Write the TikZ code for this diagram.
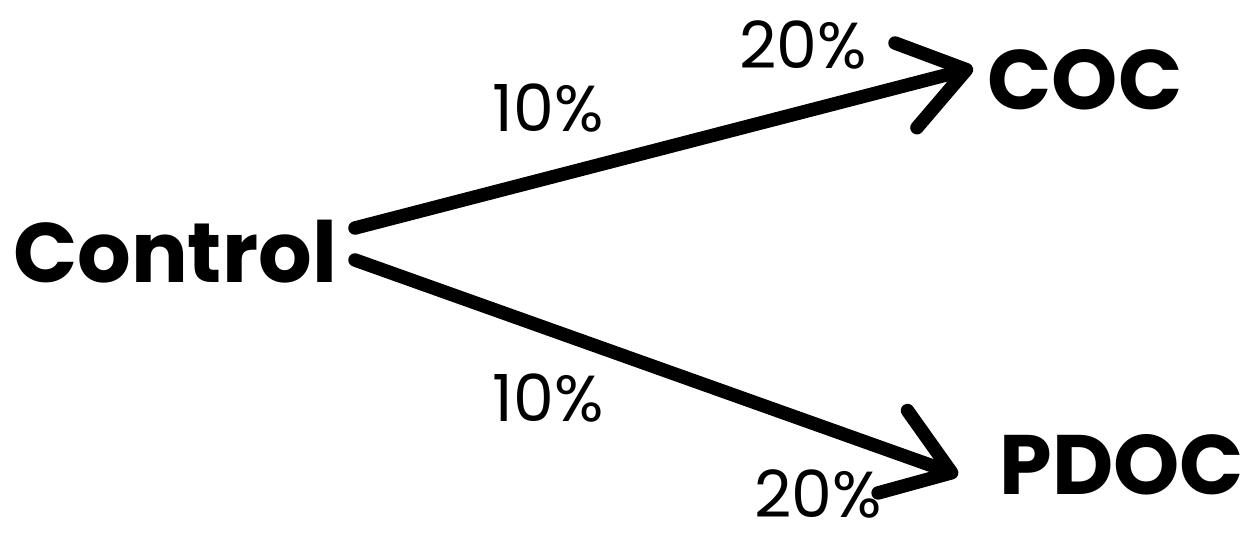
\documentclass[tikz,border=0pt]{standalone}
\usepackage{fontspec}
\setmainfont{Poppins}
\usetikzlibrary{arrows.meta,calc}

\begin{document}
\begin{tikzpicture}[x=0.02cm,y=-0.02cm,
   grp/.style={font=\fontsize{48}{56}\selectfont\bfseries,inner sep=0pt},
   pct/.style={font=\fontsize{37}{44}\selectfont,inner sep=0pt},
   link/.style={line width=0.27cm,line cap=round,
     -{Straight Barb[length=1.25cm,width=1.75cm,line cap=round,line join=round]}}]
  \useasboundingbox (0,0) rectangle (1251,534);
  \node[grp] (ctrl) at (175,252) {Control};
  \node[grp] (coc)  at (1085,80) {COC};
  \node[grp] (pdoc) at (1122,465) {PDOC};
  % percentages
  \node[pct] (t10) at (548,108) {10\%};
  \node[pct] (t20) at (803,45)  {20\%};
  \node[pct] (b10) at (548,398) {10\%};
  \node[pct] (b20) at (818,494) {20\%};
  \draw[link] ($(ctrl.center)+(180,-24)$) -- ($(coc.center)+(-112,-12)$);
  \draw[link] ($(ctrl.center)+(180,8)$) -- ($(pdoc.center)+(-164,10)$);
\end{tikzpicture}
\end{document}
